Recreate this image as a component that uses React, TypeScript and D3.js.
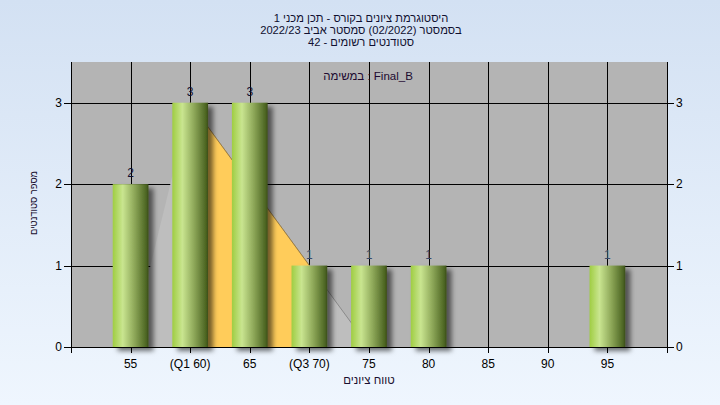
import { useEffect, useRef } from "react";
import * as d3 from "d3";

// grade bins and counts
const scoreBins = [55, 60, 65, 70, 75, 80, 85, 90, 95];
const binLabels = ["55", "(Q1 60)", "65", "(Q3 70)", "75", "80", "85", "90", "95"];
const studentCounts = [2, 3, 3, 1, 1, 1, 0, 0, 1];
const axisTicks = [50, 55, 60, 65, 70, 75, 80, 85, 90, 95, 100];
const yTicks = [0, 1, 2, 3];

// distribution outline (light) and inter-quartile band (yellow)
const spreadX = [55, 60, 75];
const spreadY = [0, 3, 0];
const quartileX = [60, 70];
const quartileTop = [3, 1];

const titleLines = [
  "היסטוגרמת ציונים בקורס - תכן מכני 1",
  "בסמסטר  (02/2022)  סמסטר אביב 2022/23",
  "סטודנטים רשומים - 42",
];
const legendText = "במשימה : Final_B";
const xTitle = "טווח ציונים";
const yTitle = "מספר סטודנטים";

const FONT = "'Liberation Sans', Arial, sans-serif";

export default function App() {
  const svgRef = useRef<SVGSVGElement>(null);

  useEffect(() => {
    if (!svgRef.current) return;
    const svg = d3.select(svgRef.current);
    svg.selectAll("*").remove();

    const W = 720;
    const H = 405;
    const plot = { left: 71, right: 667, top: 62, bottom: 347 };

    const x = d3.scaleLinear().domain([50, 100]).range([plot.left, plot.right]);
    const y = d3.scaleLinear().domain([0, 3.5]).range([plot.bottom, plot.top]);
    const barW = (x(55) - x(50)) * 0.6;

    const defs = svg.append("defs");
    const bg = defs
      .append("linearGradient")
      .attr("id", "bg-grad")
      .attr("x1", 0)
      .attr("y1", 0)
      .attr("x2", 0)
      .attr("y2", 1);
    bg.append("stop").attr("offset", "0%").attr("stop-color", "#d3e1f3");
    bg.append("stop").attr("offset", "100%").attr("stop-color", "#eff6fe");

    const barGrad = defs
      .append("linearGradient")
      .attr("id", "bar-grad")
      .attr("x1", 0)
      .attr("y1", 0)
      .attr("x2", 1)
      .attr("y2", 0);
    [
      ["0%", "#9fcd42"],
      ["28%", "#c9e590"],
      ["60%", "#8fa95a"],
      ["94%", "#4c6522"],
      ["100%", "#3a4c18"],
    ].forEach(([o, c]) => barGrad.append("stop").attr("offset", o).attr("stop-color", c));

    const shadow = defs
      .append("filter")
      .attr("id", "bar-shadow")
      .attr("x", "-20%")
      .attr("y", "-10%")
      .attr("width", "160%")
      .attr("height", "130%");
    shadow
      .append("feDropShadow")
      .attr("dx", 5)
      .attr("dy", 4)
      .attr("stdDeviation", 2.5)
      .attr("flood-color", "#000")
      .attr("flood-opacity", 0.55);

    svg.append("rect").attr("width", W).attr("height", H).attr("fill", "url(#bg-grad)");

    svg
      .append("rect")
      .attr("x", plot.left)
      .attr("y", plot.top)
      .attr("width", plot.right - plot.left)
      .attr("height", plot.bottom - plot.top)
      .attr("fill", "#b4b4b4");

    // grid
    const grid = svg.append("g").attr("stroke", "#000").attr("stroke-width", 1);
    yTicks
      .filter((t) => t > 0)
      .forEach((t) =>
        grid
          .append("line")
          .attr("x1", plot.left)
          .attr("x2", plot.right)
          .attr("y1", Math.round(y(t)) + 0.5)
          .attr("y2", Math.round(y(t)) + 0.5)
      );
    scoreBins.forEach((s) =>
      grid
        .append("line")
        .attr("x1", Math.round(x(s)) + 0.5)
        .attr("x2", Math.round(x(s)) + 0.5)
        .attr("y1", plot.top)
        .attr("y2", plot.bottom)
    );

    // distribution shapes
    const spreadPts = spreadX.map((v, i) => [x(v), y(spreadY[i])] as [number, number]);
    svg
      .append("path")
      .attr("d", d3.line()(spreadPts) + "Z")
      .attr("fill", "#bebebe");
    svg
      .append("path")
      .attr("d", d3.line()(spreadPts.slice(1)))
      .attr("fill", "none")
      .attr("stroke", "#8a8a8a")
      .attr("stroke-width", 1);

    const band = d3
      .area<number>()
      .x((v) => x(v))
      .y0(y(0))
      .y1((_, i) => y(quartileTop[i]));
    svg
      .append("path")
      .datum(quartileX)
      .attr("d", band)
      .attr("fill", "#ffcc5a");
    svg
      .append("path")
      .attr("d", d3.line()(quartileX.map((v, i) => [x(v), y(quartileTop[i])])))
      .attr("fill", "none")
      .attr("stroke", "#9c7e44")
      .attr("stroke-width", 1);

    // bars
    const bars = scoreBins
      .map((s, i) => ({ s, c: studentCounts[i] }))
      .filter((d) => d.c > 0);
    svg
      .append("g")
      .selectAll("rect")
      .data(bars)
      .enter()
      .append("rect")
      .attr("x", (d) => x(d.s) - barW / 2)
      .attr("y", (d) => y(d.c))
      .attr("width", barW)
      .attr("height", (d) => y(0) - y(d.c))
      .attr("fill", "url(#bar-grad)")
      .attr("filter", "url(#bar-shadow)");

    svg
      .append("g")
      .selectAll("text")
      .data(bars)
      .enter()
      .append("text")
      .attr("x", (d) => x(d.s))
      .attr("y", (d) => y(d.c) - 7)
      .attr("text-anchor", "middle")
      .attr("font-family", FONT)
      .attr("font-size", 12)
      .attr("fill", (d) => (d.c === 1 ? "#3a4a6a" : "#101030"))
      .text((d) => d.c);

    // axes
    const ax = svg.append("g").attr("stroke", "#000").attr("stroke-width", 1);
    ax.append("line")
      .attr("x1", plot.left + 0.5)
      .attr("x2", plot.left + 0.5)
      .attr("y1", plot.top)
      .attr("y2", plot.bottom + 6);
    ax.append("line")
      .attr("x1", plot.right + 0.5)
      .attr("x2", plot.right + 0.5)
      .attr("y1", plot.top)
      .attr("y2", plot.bottom + 6);
    ax.append("line")
      .attr("x1", plot.left)
      .attr("x2", plot.right + 1)
      .attr("y1", plot.bottom + 0.5)
      .attr("y2", plot.bottom + 0.5);
    yTicks.forEach((t) => {
      const yy = Math.round(y(t)) + 0.5;
      ax.append("line").attr("x1", plot.left - 7).attr("x2", plot.left).attr("y1", yy).attr("y2", yy);
      ax.append("line").attr("x1", plot.right).attr("x2", plot.right + 7).attr("y1", yy).attr("y2", yy);
    });
    axisTicks.forEach((t) => {
      const xx = Math.round(x(t)) + 0.5;
      ax.append("line").attr("x1", xx).attr("x2", xx).attr("y1", plot.bottom).attr("y2", plot.bottom + 6);
    });

    const txt = svg.append("g").attr("font-family", FONT).attr("font-size", 12).attr("fill", "#000");
    yTicks.forEach((t) => {
      txt
        .append("text")
        .attr("x", plot.left - 9)
        .attr("y", y(t))
        .attr("dy", "0.35em")
        .attr("text-anchor", "end")
        .text(t);
      txt
        .append("text")
        .attr("x", plot.right + 9)
        .attr("y", y(t))
        .attr("dy", "0.35em")
        .attr("text-anchor", "start")
        .text(t);
    });
    scoreBins.forEach((s, i) =>
      txt
        .append("text")
        .attr("x", x(s))
        .attr("y", 368)
        .attr("text-anchor", "middle")
        .text(binLabels[i])
    );

    txt
      .append("text")
      .attr("x", x(75))
      .attr("y", 384)
      .attr("text-anchor", "middle")
      .attr("font-size", 11.5)
      .attr("fill", "#1a1030")
      .text(xTitle);

    txt
      .append("text")
      .attr("transform", "translate(33,203) rotate(-90)")
      .attr("text-anchor", "middle")
      .attr("dy", "0.35em")
      .attr("font-size", 10.5)
      .attr("textLength", 64)
      .attr("lengthAdjust", "spacingAndGlyphs")
      .attr("fill", "#1a1030")
      .text(yTitle);

    txt
      .append("text")
      .attr("x", 368)
      .attr("y", 80)
      .attr("text-anchor", "middle")
      .attr("font-size", 11.5)
      .attr("fill", "#200a30")
      .text(legendText);

    titleLines.forEach((line, i) =>
      txt
        .append("text")
        .attr("x", 361)
        .attr("y", 22 + i * 12)
        .attr("text-anchor", "middle")
        .attr("font-size", 11.2)
        .attr("fill", "#101030")
        .text(line)
    );
  }, []);

  return (
    <svg
      ref={svgRef}
      width={720}
      height={405}
      style={{ position: "absolute", left: 0, top: 0 }}
    />
  );
}
